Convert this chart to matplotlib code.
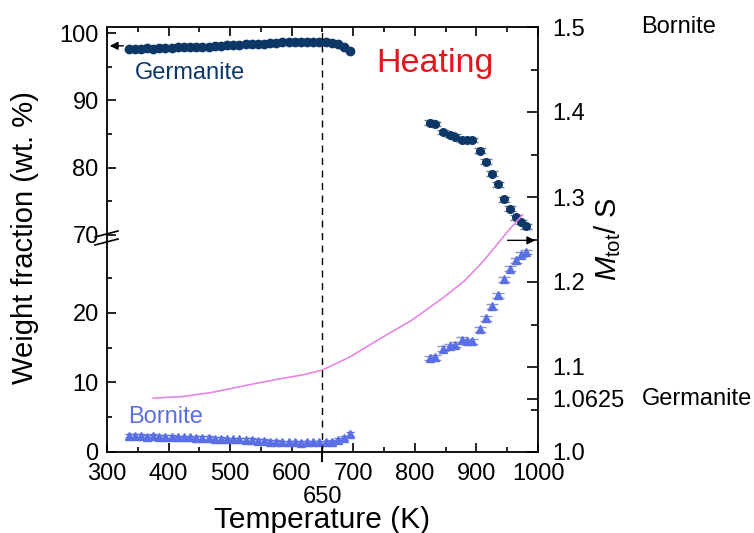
import matplotlib
matplotlib.use("Agg")
import matplotlib.pyplot as plt
import matplotlib.transforms as mtransforms
from matplotlib.lines import Line2D

plt.rcParams["font.family"] = ["Liberation Sans", "DejaVu Sans"]
plt.rcParams["mathtext.fontset"] = "custom"
plt.rcParams["mathtext.rm"] = "Liberation Sans"
plt.rcParams["mathtext.it"] = "Liberation Sans:italic"

# -----------------------------
# 1. Data
# -----------------------------

temp_low = [335, 345, 355, 365, 375, 385, 395, 405, 415, 425, 435, 445, 455,
            465, 475, 485, 495, 505, 515, 525, 535, 545, 555, 565, 575, 585,
            595, 605, 615, 625, 635, 645, 655, 665, 675, 685, 695]
germanite_low = [97.7, 97.7, 97.7, 97.8, 97.7, 97.8, 97.8, 97.8, 97.9, 97.9,
                 97.9, 98.0, 98.0, 98.0, 98.1, 98.1, 98.2, 98.2, 98.2, 98.3,
                 98.3, 98.4, 98.4, 98.5, 98.5, 98.6, 98.6, 98.6, 98.7, 98.6,
                 98.6, 98.6, 98.6, 98.5, 98.3, 98.0, 97.4]
bornite_low = [2.3, 2.3, 2.3, 2.2, 2.3, 2.2, 2.2, 2.2, 2.1, 2.1, 2.1, 2.0, 2.0,
               2.0, 1.9, 1.9, 1.8, 1.8, 1.8, 1.7, 1.7, 1.6, 1.6, 1.5, 1.5, 1.4,
               1.4, 1.4, 1.3, 1.4, 1.4, 1.4, 1.4, 1.5, 1.7, 2.0, 2.6]

temp_high = [825, 832, 845, 857, 865, 877, 885, 893, 905, 915, 925, 935, 945,
             955, 965, 973, 980]
germanite_high = [86.7, 86.5, 85.3, 84.9, 84.6, 84.1, 84.1, 84.1, 82.5, 80.9,
                  79.1, 77.5, 75.3, 73.9, 72.6, 71.9, 71.3]
bornite_high = [13.5, 13.6, 14.8, 15.2, 15.4, 16.1, 15.9, 15.9, 17.6, 19.2,
                20.9, 22.5, 24.8, 26.3, 27.5, 28.3, 28.7]

temp_ratio = [375, 420, 470, 530, 580, 620, 650, 695, 745, 795, 845, 880,
              910, 930, 950, 975]
mtot_s = [1.0635, 1.065, 1.070, 1.079, 1.086, 1.091, 1.0965, 1.112, 1.134,
          1.155, 1.181, 1.201, 1.2235, 1.241, 1.259, 1.279]

right_ticks = [1.0, 1.0625, 1.1, 1.2, 1.3, 1.4, 1.5]
right_labels = ["1.0", "1.0625", "1.1", "1.2", "1.3", "1.4", "1.5"]

# -----------------------------
# 2. Style
# -----------------------------

NAVY = "#0c3767"
NAVY_ERR = "#6a7f96"
BLUE = "#5b6fe4"
MAGENTA = "#e586e6"
RED = "#e8141c"
TICK_FS = 17

W, H = 754, 533
left, right = 107 / W, 538 / W
bottom, top, brk = 1 - 452 / H, 1 - 27 / H, 1 - 243 / H

fig = plt.figure(figsize=(7.54, 5.33), dpi=100)
ax_top = fig.add_axes([left, brk, right - left, top - brk])
ax_bot = fig.add_axes([left, bottom, right - left, brk - bottom])
ax_r = fig.add_axes([left, bottom, right - left, top - bottom])

tick_kw = dict(direction="in", width=1.2)

# -----------------------------
# 3. Upper panel (Germanite)
# -----------------------------

ax_top.errorbar(temp_low, germanite_low, yerr=0.25, fmt="o", ms=6,
                color=NAVY, ecolor=NAVY_ERR, elinewidth=1, capsize=3)
ax_top.errorbar(temp_high, germanite_high, yerr=0.35, fmt="o", ms=5.5,
                color=NAVY, ecolor=NAVY_ERR, elinewidth=1, capsize=4)
ax_top.set_xlim(300, 1000)
ax_top.set_ylim(68.8, 100.9)
ax_top.set_yticks([70, 80, 90, 100])
ax_top.set_yticks([75, 85, 95], minor=True)
ax_top.set_xticks(range(300, 1001, 100))
ax_top.set_xticks(range(350, 1000, 100), minor=True)
ax_top.tick_params(axis="x", which="both", top=True, bottom=False,
                   labelbottom=False, **tick_kw)
ax_top.tick_params(axis="y", which="both", right=False, **tick_kw)
ax_top.tick_params(which="major", length=6.5, labelsize=TICK_FS)
ax_top.tick_params(which="minor", length=3.6)
ax_top.tick_params(axis="y", pad=6)
ax_top.spines["bottom"].set_visible(False)
ax_top.spines["right"].set_visible(False)

ax_top.text(345, 93.2, "Germanite", color=NAVY, fontsize=17, va="baseline")
ax_top.text(738, 94.2, "Heating", color=RED, fontsize=24.5, va="baseline")
ax_top.annotate("", xy=(300, 98.1), xytext=(331, 98.1),
                arrowprops=dict(arrowstyle="-|>", color="k", lw=1,
                                mutation_scale=12))

# -----------------------------
# 4. Lower panel (Bornite)
# -----------------------------

ax_bot.errorbar(temp_low, bornite_low, yerr=0.25, fmt="^", ms=5.5,
                color=BLUE, ecolor=BLUE, elinewidth=1, capsize=3)
ax_bot.errorbar(temp_high, bornite_high, yerr=0.35, fmt="^", ms=6,
                color=BLUE, ecolor="#8a96c8", elinewidth=1, capsize=4)
ax_bot.set_xlim(300, 1000)
ax_bot.set_ylim(0, 30)
ax_bot.set_yticks([0, 10, 20])
ax_bot.set_yticks([5, 15, 25], minor=True)
ax_bot.set_xticks(range(300, 1001, 100))
ax_bot.set_xticks(range(350, 1000, 100), minor=True)
ax_bot.tick_params(axis="x", which="both", top=False, **tick_kw)
ax_bot.tick_params(axis="y", which="both", right=False, **tick_kw)
ax_bot.tick_params(which="major", length=6.5, labelsize=TICK_FS)
ax_bot.tick_params(which="minor", length=3.6)
ax_bot.tick_params(axis="x", pad=8)
ax_bot.tick_params(axis="y", pad=6)
ax_bot.spines["top"].set_visible(False)
ax_bot.spines["right"].set_visible(False)
ax_bot.text(334, 4.2, "Bornite", color=BLUE, fontsize=17, va="baseline")

# extra 650 K tick below the axis
sec = ax_bot.secondary_xaxis("bottom")
sec.set_xticks([650])
sec.tick_params(direction="out", length=7.5, width=1.5, pad=17,
                labelsize=TICK_FS)
for s in sec.spines.values():
    s.set_visible(False)

for ax in (ax_top, ax_bot):
    for s in ax.spines.values():
        s.set_linewidth(1.3)

# -----------------------------
# 5. Right axis (Mtot / S)
# -----------------------------

ax_r.set_facecolor("none")
ax_r.plot(temp_ratio, mtot_s, color=MAGENTA, lw=1.2)
ax_r.axvline(650, color="k", lw=1, ls=(0, (5, 4)))
ax_r.set_xlim(300, 1000)
ax_r.set_ylim(1.0, 1.5)
ax_r.xaxis.set_visible(False)
ax_r.yaxis.tick_right()
ax_r.set_yticks(right_ticks)
ax_r.set_yticklabels(right_labels)
ax_r.set_yticks([1.05, 1.15, 1.25, 1.35, 1.45], minor=True)
ax_r.tick_params(axis="y", which="both", right=True, left=False,
                 labelright=True, labelleft=False, **tick_kw)
ax_r.tick_params(which="major", length=8, labelsize=TICK_FS, pad=10)
ax_r.tick_params(which="minor", length=5)
for name in ("left", "top", "bottom"):
    ax_r.spines[name].set_visible(False)
ax_r.spines["right"].set_linewidth(1.3)
ax_r.annotate("", xy=(1000, 1.249), xytext=(946, 1.249),
              arrowprops=dict(arrowstyle="-|>", color="k", lw=1,
                              mutation_scale=12))

off = mtransforms.blended_transform_factory(ax_r.transAxes, ax_r.transData)
ax_r.annotate("Bornite", xy=(1, 1.5), xycoords=off, xytext=(103, 0),
              textcoords="offset pixels", fontsize=17, va="center")
ax_r.annotate("Germanite", xy=(1, 1.0625), xycoords=off, xytext=(104, 0),
              textcoords="offset pixels", fontsize=17, va="center")

# -----------------------------
# 6. Labels and axis break
# -----------------------------

fig.text((left + right) / 2, 1 - 528 / H, "Temperature (K)", fontsize=21.5,
         ha="center", va="baseline")
fig.text(25 / W, 1 - 238 / H, "Weight fraction (wt. %)", fontsize=21,
         rotation=90, ha="center", va="center")
fig.text(608 / W, 1 - 239 / H, r"$\mathit{M}_{\mathrm{tot}}$/ S", fontsize=21,
         rotation=90, ha="center", va="center")

for y0 in (237, 245):
    fig.add_artist(Line2D([95 / W, 118 / W], [1 - y0 / H, 1 - (y0 - 6) / H],
                          color="k", lw=1.2))

fig.savefig("out.png", dpi=100)
